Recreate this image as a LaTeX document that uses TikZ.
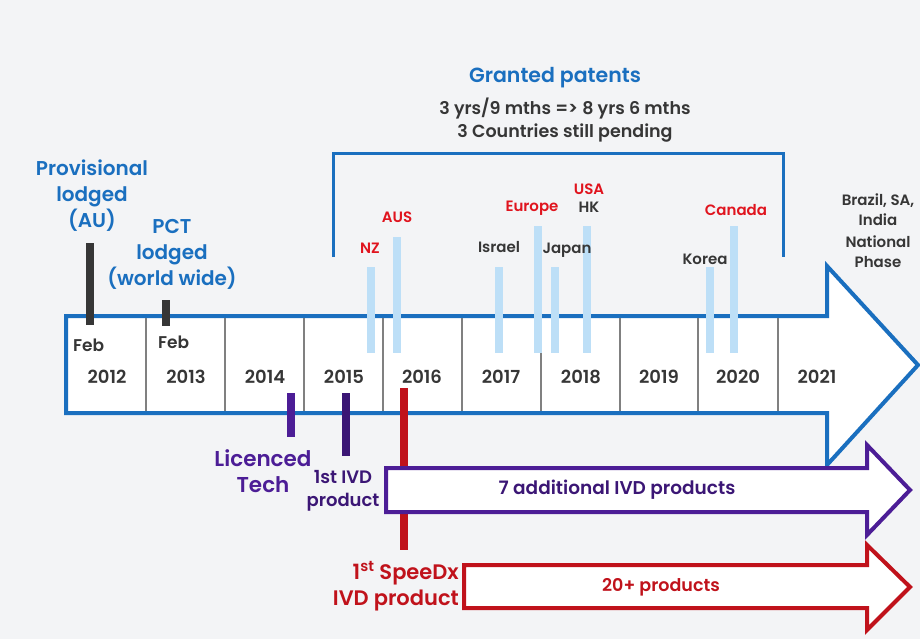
\documentclass[tikz,border=0pt]{standalone}
\usepackage{fontspec}
\setmainfont{Poppins}[BoldFont={Poppins SemiBold}]
\usetikzlibrary{positioning}
\definecolor{pageg}{HTML}{F3F4F6}
\definecolor{patblue}{HTML}{1A6FBF}
\definecolor{barblue}{HTML}{BDDFF7}
\definecolor{inkd}{HTML}{363636}
\definecolor{cellg}{HTML}{808080}
\definecolor{ctryred}{HTML}{E0141E}
\definecolor{speedred}{HTML}{C0121B}
\definecolor{licpurp}{HTML}{4C1D96}
\definecolor{ivdpurp}{HTML}{3B1675}

\tikzset{
  big/.style={font=\fontsize{20.5}{26}\selectfont\bfseries,align=center,inner sep=0pt},
  mid/.style={font=\fontsize{17.5}{23}\selectfont\bfseries,align=center,inner sep=0pt,text=inkd},
  ctry/.style={font=\fontsize{15}{20}\selectfont\bfseries,inner sep=0pt},
  yearlbl/.style={font=\fontsize{18}{20}\selectfont\bfseries,text=inkd,inner sep=0pt},
  patbar/.style={barblue,line width=8pt},
  tickbar/.style={line width=8pt},
  cellline/.style={cellg,line width=1.5pt},
}

\begin{document}
\begin{tikzpicture}[x=1pt,y=-1pt]
  \useasboundingbox (0,0) rectangle (920,639);
  \fill[pageg] (0,0) rectangle (920,639);

  % main time arrow
  \draw[patblue,fill=white,line width=4pt,line join=miter]
    (66,316) -- (827,316) -- (827,266) -- (918,365) -- (827,465) -- (827,413) -- (66,413) -- cycle;
  \foreach \x in {146,225,304,383,462,541,620,698,778}
    \draw[cellline] (\x,318) -- (\x,411);
  \foreach \yr/\x in {2012/107,2013/186,2014/265,2015/344,2016/422,2017/501,2018/581,2019/659,2020/738,2021/817}
    \node[yearlbl] (y\yr) at (\x,377) {\yr};
  \node[yearlbl,font=\fontsize{17}{20}\selectfont\bfseries,anchor=west] (feba) at (73,345) {Feb};
  \node[yearlbl,font=\fontsize{17}{20}\selectfont\bfseries,anchor=west] (febb) at (158,342) {Feb};

  % lodged
  \draw[tickbar,inkd] (90,243) -- (90,325);
  \draw[tickbar,inkd] (166,300) -- (166,326);
  \node[big,font=\fontsize{20}{26}\selectfont\bfseries,text=patblue] (prov) at (92,196) {Provisional\\lodged\\(AU)};
  \node[big,font=\fontsize{20}{26}\selectfont\bfseries,text=patblue] (pct) at (172,254) {PCT\\lodged\\(world wide)};

  % granted patents
  \draw[patblue,line width=3pt] (333,257) -- (333,154) -- (783,154) -- (783,257);
  \node[big,text=patblue] (granted) at (555,78) {Granted patents};
  \node[mid] (yrs) at (565,120) {3 yrs/9 mths => 8 yrs 6 mths\\3 Countries still pending};

  \foreach \x/\top in {371/267,397/237,499/267,538/226,555/267,587/226,710/267,734/226}
    \draw[patbar] (\x,\top) -- (\x,353);
  \node[ctry,text=ctryred] (nz) at (370,248) {NZ};
  \node[ctry,text=ctryred] (aus) at (397,217) {AUS};
  \node[ctry,text=inkd] (isr) at (499,247) {Israel};
  \node[ctry,text=ctryred] (eur) at (532,208) {Europe};
  \node[ctry,text=inkd] (jap) at (567,250) {Japan};
  \node[ctry,text=ctryred] (usa) at (589,189) {USA};
  \node[ctry,text=inkd,below=7pt of usa] (hk) {HK};
  \node[ctry,text=inkd] (kor) at (705,259) {Korea};
  \node[ctry,text=ctryred] (can) at (736,210) {Canada};
  \node[ctry,text=inkd,align=center] (bsi) at (878,210) {Brazil, SA,\\India};
  \node[ctry,text=inkd,align=center,below=9pt of bsi] (nat) {National\\Phase};

  % products
  \draw[tickbar,licpurp] (291,393) -- (291,437);
  \draw[tickbar,ivdpurp] (346,393) -- (346,456);
  \draw[tickbar,speedred] (404,388) -- (404,550);
  \node[big,font=\fontsize{21.5}{26}\selectfont\bfseries,text=licpurp] (lic) at (263,471) {Licenced\\Tech};
  \node[mid,font=\fontsize{18}{23}\selectfont\bfseries,text=ivdpurp] (ivd1) at (343,491) {1st IVD\\product};
  \node[big,font=\fontsize{21}{26}\selectfont\bfseries,text=speedred,align=right,anchor=east] (sdx) at (459,586) {1\textsuperscript{st} SpeeDx\\IVD product};

  \draw[licpurp,fill=white,line width=4pt,line join=miter]
    (386,468) -- (867,468) -- (867,445) -- (910,490) -- (867,535) -- (867,512) -- (386,512) -- cycle;
  \node[mid,font=\fontsize{18.5}{23}\selectfont\bfseries,text=ivdpurp] (seven) at (617,490) {7 additional IVD products};
  \draw[speedred,fill=white,line width=4pt,line join=miter]
    (464,565) -- (867,565) -- (867,545) -- (910,587) -- (867,630) -- (867,608) -- (464,608) -- cycle;
  \node[mid,text=speedred] (twenty) at (661,587) {20+ products};
\end{tikzpicture}
\end{document}
